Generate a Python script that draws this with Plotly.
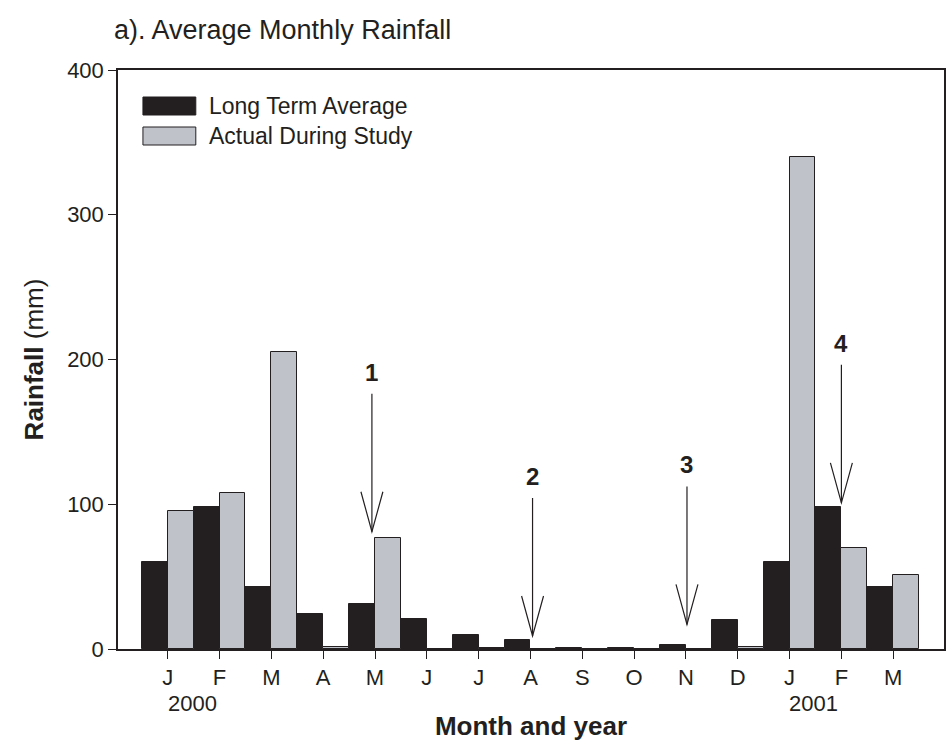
import plotly.graph_objects as go

# Monthly rainfall, Jan 2000 - Mar 2001 (mm)
months = ["J", "F", "M", "A", "M", "J", "J", "A", "S", "O", "N", "D", "J", "F", "M"]
long_term_avg = [60, 98, 43, 24, 31, 21, 10, 6, 1, 1, 3, 20, 60, 98, 43]
actual_study = [95, 108, 205, 1.5, 77, 0, 0.5, 0, 0, 0, 0, 1.5, 340, 70, 51]

# Year labels placed under the first month of each year
year_labels = ["2000", "2001"]
year_month_index = [0, 12]

# Sampling events marked with arrows (month position, value at arrow tip)
event_labels = ["1", "2", "3", "4"]
event_x = [3.94, 7.04, 10.02, 13.0]
event_tip = [81, 9, 17, 101]

INK = "#231f20"
GREY = "#c0c2c9"
FONT = "Liberation Sans, Arial, Helvetica, sans-serif"

W, H = 947, 741
ML, MR, MT, MB = 118, 1, 70, 92
X_RANGE = [-0.96, 14.98]
Y_RANGE = [0, 400]
px_per_x = (W - ML - MR) / (X_RANGE[1] - X_RANGE[0])
px_per_y = (H - MT - MB) / (Y_RANGE[1] - Y_RANGE[0])

idx = list(range(len(months)))

fig = go.Figure()
fig.add_trace(go.Bar(
    x=idx, y=long_term_avg, offset=-0.5, width=0.5,
    marker=dict(color=INK, line=dict(color=INK, width=1)),
    name="Long Term Average", showlegend=False,
))
fig.add_trace(go.Bar(
    x=idx, y=actual_study, offset=0.0, width=0.5,
    marker=dict(color=GREY, line=dict(color=INK, width=1)),
    name="Actual During Study", showlegend=False,
))

shapes = []
annotations = []

# Arrows: straight shaft with an open V head
shaft_px, head_h_px, head_w_px = 138, 40, 11
for lab, x, tip in zip(event_labels, event_x, event_tip):
    top = tip + shaft_px / px_per_y
    hh = head_h_px / px_per_y
    hw = head_w_px / px_per_x
    shapes.append(dict(type="line", xref="x", yref="y", x0=x, x1=x, y0=tip, y1=top,
                       line=dict(color=INK, width=1.2)))
    shapes.append(dict(type="path", xref="x", yref="y",
                       path=f"M {x - hw},{tip + hh} L {x},{tip} L {x + hw},{tip + hh}",
                       line=dict(color=INK, width=1.2)))
    annotations.append(dict(x=x, y=top, xref="x", yref="y", text=f"<b>{lab}</b>",
                            showarrow=False, yanchor="bottom", yshift=6,
                            font=dict(family=FONT, size=24, color=INK)))

# Year labels under the month ticks
for yl, mi in zip(year_labels, year_month_index):
    annotations.append(dict(x=mi + 0.47, y=0, xref="x", yref="paper", text=yl,
                            showarrow=False, yanchor="top", yshift=-40,
                            font=dict(family=FONT, size=22, color=INK)))

# Legend drawn as boxes with text
def px_to_paper(px, py):
    return (px - ML) / (W - ML - MR), (H - MB - py) / (H - MT - MB)

legend_items = [("Long Term Average", INK), ("Actual During Study", GREY)]
for i, (txt, col) in enumerate(legend_items):
    y_top = 97 + i * 30
    x0, y0 = px_to_paper(143, y_top)
    x1, y1 = px_to_paper(196, y_top + 18)
    shapes.append(dict(type="rect", xref="paper", yref="paper", x0=x0, x1=x1, y0=y1, y1=y0,
                       fillcolor=col, line=dict(color=INK, width=1)))
    tx, ty = px_to_paper(207, y_top + 9)
    annotations.append(dict(x=tx, y=ty, xref="paper", yref="paper", text=txt,
                            showarrow=False, xanchor="left", yanchor="middle",
                            font=dict(family=FONT, size=23, color=INK)))

fig.update_layout(
    width=W, height=H,
    margin=dict(l=ML, r=MR, t=MT, b=MB),
    paper_bgcolor="white", plot_bgcolor="white",
    barmode="overlay", bargap=0,
    title=dict(text="a). Average Monthly Rainfall", x=114 / W, xanchor="left",
               y=1 - 30 / H, yanchor="middle",
               font=dict(family=FONT, size=27, color=INK)),
    font=dict(family=FONT, color=INK),
    shapes=shapes, annotations=annotations,
)
fig.update_xaxes(
    range=X_RANGE, tickmode="array", tickvals=idx, ticktext=months,
    ticks="outside", ticklen=8, tickwidth=1, tickcolor=INK,
    showline=True, linecolor=INK, linewidth=1.5, mirror=True,
    showgrid=False, zeroline=False,
    tickfont=dict(family=FONT, size=22, color=INK),
    title=dict(text="<b>Month and year</b>", standoff=32,
               font=dict(family=FONT, size=26, color=INK)),
)
fig.update_yaxes(
    range=Y_RANGE, tickvals=[0, 100, 200, 300, 400],
    ticks="outside", ticklen=8, tickwidth=1, tickcolor=INK,
    showline=True, linecolor=INK, linewidth=1.5, mirror=True,
    showgrid=False, zeroline=False,
    tickfont=dict(family=FONT, size=22, color=INK),
    title=dict(text="<b>Rainfall</b> (mm)", standoff=16,
               font=dict(family=FONT, size=26, color=INK)),
)

fig.write_html("out.html")
